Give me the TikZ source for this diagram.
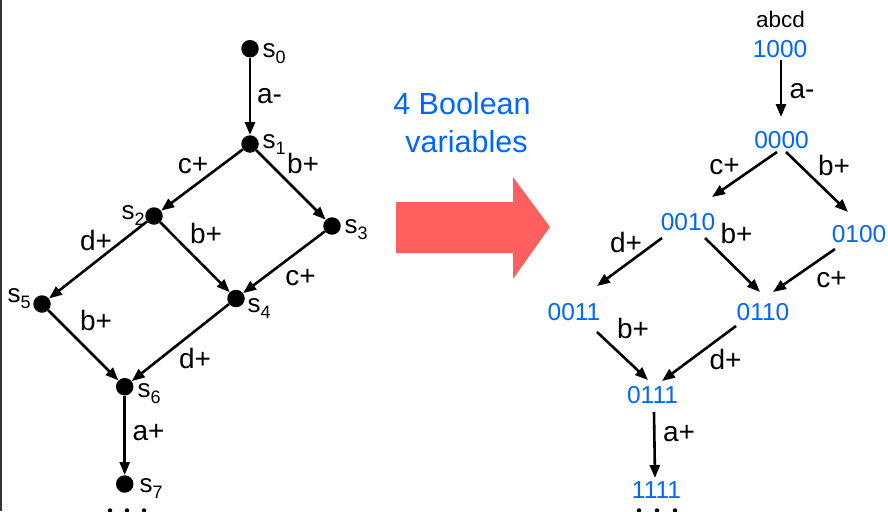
\documentclass[tikz,border=0pt]{standalone}
\usepackage{fontspec}
\setmainfont{Liberation Sans}
\usetikzlibrary{arrows.meta,calc}
\definecolor{numblue}{RGB}{0,102,255}
\definecolor{bigred}{RGB}{255,95,95}
\newcommand{\stx}[1]{{\fontsize{26}{26}\selectfont s}\raisebox{-6pt}{\fontsize{18}{18}\selectfont #1}}
\begin{document}
\begin{tikzpicture}[x=1pt,y=-1pt,
  dot/.style={circle,fill=black,minimum size=17.5pt,inner sep=0pt},
  arr/.style={line width=2.6pt,-{Triangle[length=13pt,width=10pt]}},
  lab/.style={anchor=base,inner sep=0pt,font=\fontsize{28}{28}\selectfont},
  num/.style={anchor=base,inner sep=0pt,text=numblue,font=\fontsize{24.5}{24.5}\selectfont},
  slab/.style={anchor=base west,inner sep=0pt},
  ell/.style={circle,fill=black,minimum size=4.5pt,inner sep=0pt},
  title/.style={anchor=base,inner sep=0pt,text=numblue,font=\fontsize{30.5}{30.5}\selectfont}]
\useasboundingbox (0,0) rectangle (888,511);
\draw[line width=2pt,black!80] (1,0) -- (1,511);

% left graph
\node[dot] (s0) at (250,48.7) {};
\node[dot] (s1) at (250,144) {};
\node[dot] (s2) at (154,216) {};
\node[dot] (s3) at (332,226) {};
\node[dot] (s4) at (236,298.5) {};
\node[dot] (s5) at (42,304) {};
\node[dot] (s6) at (124.7,386.7) {};
\node[dot] (s7) at (124.7,484) {};
\node[slab] (l0) at (262.5,57) {\stx{0}};
\node[slab] (l1) at (262.5,148) {\stx{1}};
\node[slab] (l2) at (121.5,219) {\stx{2}};
\node[slab] (l3) at (344.5,233) {\stx{3}};
\node[slab] (l4) at (247.5,312) {\stx{4}};
\node[slab] (l5) at (7.5,302) {\stx{5}};
\node[slab] (l6) at (137.5,397) {\stx{6}};
\node[slab] (l7) at (139.5,492) {\stx{7}};
\draw[arr] (s0) -- (s1);
\draw[arr] (s1) -- (s2);
\draw[arr] (s1) -- (s3);
\draw[arr] (s2) -- (s5);
\draw[arr] (s2) -- (s4);
\draw[arr] (s3) -- (s4);
\draw[arr] (s5) -- (s6);
\draw[arr] (s4) -- (s6);
\draw[arr] (s6) -- (s7);
\node[lab] (ta1) at (269.5,103) {a-};
\node[lab] (tc1) at (193,173) {c+};
\node[lab] (tb1) at (303,173) {b+};
\node[lab] (td1) at (96,250) {d+};
\node[lab] (tb2) at (206,243) {b+};
\node[lab] (tc2) at (300.5,285) {c+};
\node[lab] (tb3) at (96,330) {b+};
\node[lab] (td2) at (195,368) {d+};
\node[lab] (ta2) at (148.5,440) {a+};
\node[ell] (e1) at (110,510.5) {};
\node[ell] (e2) at (127,510.5) {};
\node[ell] (e3) at (144,510.5) {};

% middle
\node[title] (t1) at (462,114) {4 Boolean};
\node[title] (t2) at (466.5,152) {variables};
\fill[bigred] (396,202) -- (513,202) -- (513,177) -- (550,227) -- (513,279) -- (513,253) -- (396,253) -- cycle;

% right graph
\node[anchor=base,inner sep=0pt,font=\fontsize{22.5}{22.5}\selectfont] (abcd) at (780.5,28) {abcd};
\node[num] (n1) at (780,57) {1000};
\node[num] (n2) at (781.5,148) {0000};
\node[num] (n3) at (688,230) {0010};
\node[num] (n4) at (859,242) {0100};
\node[num] (n5) at (574,320) {0011};
\node[num] (n6) at (763,320) {0110};
\node[num] (n7) at (652.5,403) {0111};
\node[num] (n8) at (656.5,498) {1111};
\draw[arr] ($(n1.base)+(1,3)$) -- ($(n2.base)+(-0.5,-31)$);
\draw[arr] ($(n2.base)+(-4.5,4)$) -- ($(n3.base)+(24,-33)$);
\draw[arr] ($(n2.base)+(4.5,4)$) -- ($(n4.base)+(-11,-30)$);
\draw[arr] ($(n3.base)+(-26,8)$) -- ($(n5.base)+(23,-34)$);
\draw[arr] ($(n3.base)+(17,8)$) -- ($(n6.base)+(-3,-28)$);
\draw[arr] ($(n4.base)+(-24,7)$) -- ($(n6.base)+(10,-28)$);
\draw[arr] ($(n5.base)+(23,12)$) -- ($(n7.base)+(-4.5,-23)$);
\draw[arr] ($(n6.base)+(-27,6)$) -- ($(n7.base)+(9.5,-22)$);
\draw[arr] ($(n7.base)+(1.5,9)$) -- ($(n8.base)+(-1.5,-20)$);
\node[lab] (ra1) at (802,98) {a-};
\node[lab] (rc1) at (724.5,174) {c+};
\node[lab] (rb1) at (834,175) {b+};
\node[lab] (rd1) at (626,252) {d+};
\node[lab] (rb2) at (736.5,243) {b+};
\node[lab] (rc2) at (831.5,287) {c+};
\node[lab] (rb3) at (633,338) {b+};
\node[lab] (rd2) at (725.5,369) {d+};
\node[lab] (ra2) at (679,441) {a+};
\node[ell] (f1) at (639,510.5) {};
\node[ell] (f2) at (657,510.5) {};
\node[ell] (f3) at (675,510.5) {};
\end{tikzpicture}
\end{document}
